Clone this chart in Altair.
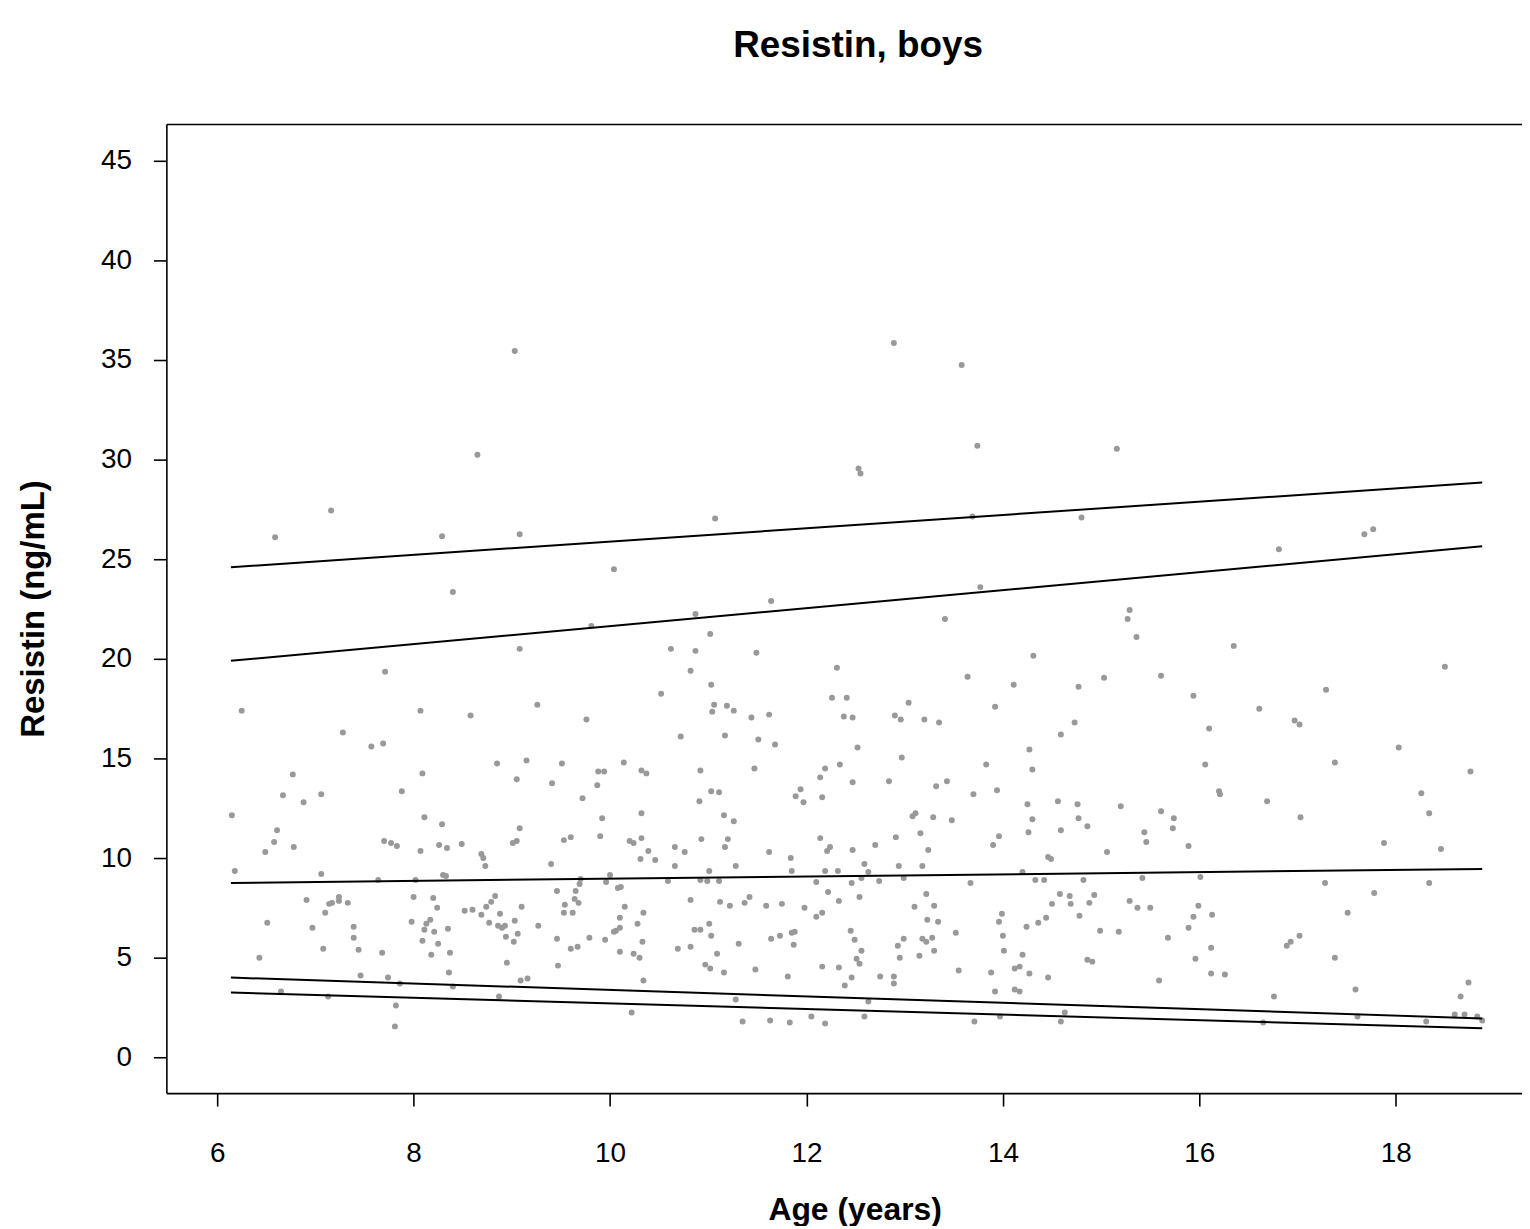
import altair as alt
import pandas as pd

# ---- scatter data (age in years, resistin in ng/mL) ----
ages = [
    9.03, 8.65, 7.16, 6.59, 8.29, 9.08, 8.40, 9.08,
    12.53, 12.55, 11.07, 10.04, 11.64, 10.87, 9.81, 11.02,
    12.89, 13.58, 13.74, 15.16, 13.69, 14.80, 13.77, 13.41, 15.29, 15.27, 15.36,
    17.68, 17.77, 16.81, 16.35,
    7.71, 6.25, 8.07, 8.58, 7.28, 7.57, 7.69, 9.26, 8.85, 9.15, 6.77, 8.09, 9.05,
    6.67, 6.88, 7.06, 7.88, 6.15, 8.11, 8.29, 9.08, 6.61, 6.58, 6.78, 7.70, 7.77,
    7.83, 8.26, 8.34, 8.49, 9.01, 9.05,
    10.62, 10.87, 11.49, 10.82, 12.31, 11.03, 10.52, 12.26, 12.41, 11.06, 11.04,
    11.19, 11.26, 11.44, 11.62, 12.38, 12.47, 9.76, 10.72, 11.17, 11.51, 11.68,
    12.52, 9.51, 10.14, 9.88, 9.94, 10.32, 10.37, 10.92, 11.47, 12.19, 12.34,
    9.41, 9.87, 12.14, 12.47, 9.72, 11.03, 11.11, 10.91, 11.94, 11.89, 11.97,
    12.16, 9.92, 10.32, 11.16, 11.26, 9.53, 9.60, 9.90, 10.20, 10.24, 10.32,
    10.66, 10.93, 11.20, 11.17, 12.14, 12.24,
    10.39, 10.76, 11.62, 11.84, 12.21, 12.47, 10.31, 10.46,
    14.31, 13.64, 14.11, 14.77, 15.03, 15.61, 15.94, 13.04, 12.90, 12.96, 13.20,
    13.35, 13.92, 14.73, 14.59, 12.97, 14.27, 14.30, 13.83, 12.84, 13.32, 13.43,
    13.70, 13.94, 14.25, 14.56, 14.76, 15.20, 15.61, 15.74, 15.73, 13.08, 13.11,
    13.29, 13.48, 14.30, 14.77, 14.86, 14.26, 14.59, 15.44, 15.46, 15.89, 12.70,
    12.91, 13.16, 13.24, 13.96, 13.90, 14.46, 14.49, 15.06,
    18.50, 17.29, 16.61, 16.97, 17.02, 16.10, 18.03, 16.06, 17.38, 18.76, 16.20,
    16.21, 16.69, 18.26, 18.34, 17.03, 17.88, 18.46,
    6.49, 8.07, 8.69, 8.71, 8.73, 6.18, 7.06, 7.64, 8.02, 8.30, 8.33, 6.91, 7.14,
    7.17, 7.24, 7.24, 7.33, 7.10, 6.51, 6.97, 7.39, 7.39, 7.08, 7.44, 7.68, 6.43,
    8.00, 8.20, 8.24, 7.98, 8.17, 8.13, 8.11, 8.21, 8.35, 8.09, 8.25, 8.18, 8.37,
    8.36, 8.52, 8.60, 8.69, 8.74, 8.79, 8.83, 8.77, 8.88, 8.86, 8.90, 8.93, 9.03,
    9.06, 8.94, 9.02, 9.10, 9.27, 8.95, 7.46, 7.74, 7.86, 8.40, 9.09, 9.16, 6.65,
    7.13, 8.87, 7.82, 7.81,
    9.40, 10.66, 11.28, 11.01, 11.85, 12.19, 12.32, 12.59, 9.70, 9.69, 10.00,
    9.96, 10.59, 10.92, 10.99, 11.11, 12.10, 12.46, 12.56, 9.46, 9.65, 9.64, 9.68,
    10.08, 10.11, 9.54, 9.53, 9.62, 10.15, 10.34, 10.10, 10.28, 10.10, 10.06,
    10.04, 9.46, 9.79, 9.95, 9.60, 9.67, 10.33, 10.10, 10.24, 10.30, 9.47, 10.34,
    10.82, 11.12, 11.22, 11.37, 11.42, 11.59, 11.75, 11.98, 12.10, 12.16, 12.22,
    12.33, 12.54, 10.86, 10.92, 11.01, 11.03, 10.69, 10.82, 11.09, 11.31, 11.64,
    11.73, 11.85, 11.88, 11.87, 12.45, 12.49, 12.56, 12.51, 12.54, 10.97, 11.02,
    11.16, 11.48, 11.81, 12.16, 12.33, 12.46, 12.39, 11.28, 10.22, 11.35, 11.63,
    11.83, 12.05, 12.19, 12.59,
    12.63, 12.94, 13.18, 12.74, 12.99, 13.67, 14.20, 14.33, 14.42, 14.82, 15.42,
    13.22, 13.10, 13.30, 13.23, 13.34, 13.52, 12.99, 12.93, 13.18, 13.22, 13.28,
    13.30, 12.95, 13.15, 12.75, 12.89, 12.89, 13.55, 12.63, 13.71, 13.97, 14.59,
    14.63, 13.99, 13.96, 14.00, 14.01, 14.20, 14.12, 14.17, 14.27, 13.88, 13.92,
    14.12, 14.17, 14.46, 14.24, 14.36, 14.44, 14.50, 14.58, 14.68, 14.69, 14.78,
    14.88, 14.93, 14.99, 15.18, 15.29, 15.37, 15.50, 14.86, 14.91, 15.59, 15.68,
    15.89, 15.94, 15.96,
    16.01, 17.28, 18.34, 17.78, 17.51, 15.99, 16.13, 16.12, 16.12, 16.26, 17.02,
    16.89, 16.93, 17.38, 17.59, 16.76, 18.74, 18.66, 18.60, 18.70, 18.83, 18.88,
    17.61, 16.65, 18.31,
]

resistin = [
    35.45, 30.25, 27.45, 26.1, 26.15, 26.25, 23.35, 20.5,
    29.55, 29.3, 27.05, 24.5, 22.9, 22.25, 21.65, 21.25,
    35.85, 34.75, 30.7, 30.55, 27.15, 27.1, 23.6, 22.0, 22.45, 22.0, 21.1,
    26.25, 26.5, 25.5, 20.65,
    19.35, 17.4, 17.4, 17.15, 16.3, 15.6, 15.75, 17.7, 14.75, 14.9, 14.2, 14.25,
    13.95, 13.15, 12.8, 13.2, 13.35, 12.15, 12.05, 11.7, 11.5, 11.4, 10.8, 10.55,
    10.85, 10.75, 10.6, 10.65, 10.5, 10.7, 10.75, 10.85,
    20.5, 20.4, 20.3, 19.4, 19.55, 18.7, 18.25, 18.05, 18.05, 17.7, 17.35, 17.65,
    17.4, 17.05, 17.2, 17.1, 17.05, 16.95, 16.1, 16.15, 15.95, 15.7, 15.55,
    14.75, 14.8, 14.35, 14.35, 14.4, 14.25, 14.4, 14.5, 14.5, 14.7, 13.75, 13.65,
    14.05, 13.8, 13.0, 13.35, 13.3, 12.85, 13.45, 13.1, 12.8, 13.05, 12.0, 12.25,
    12.15, 11.85, 10.9, 11.05, 11.1, 10.85, 10.75, 11.0, 10.55, 10.95, 10.95,
    10.55, 11.0, 10.55,
    10.35, 10.3, 10.3, 10.0, 10.35, 10.4, 9.95, 9.9,
    20.15, 19.1, 18.7, 18.6, 19.05, 19.15, 18.15, 17.8, 17.15, 16.95, 16.95, 16.8,
    17.6, 16.8, 16.2, 15.05, 15.45, 14.45, 14.7, 13.85, 13.6, 13.85, 13.2, 13.4,
    12.7, 12.85, 12.7, 12.6, 12.35, 12.0, 11.5, 12.1, 12.25, 12.05, 11.9, 11.95,
    12.0, 11.6, 11.3, 11.4, 11.3, 10.8, 10.6, 10.65, 11.05, 11.25, 10.4, 11.1,
    10.65, 10.05, 9.95, 10.3,
    19.6, 18.45, 17.5, 16.9, 16.7, 16.5, 15.55, 14.7, 14.8, 14.35, 13.35, 13.2,
    12.85, 13.25, 12.25, 12.05, 10.75, 10.45,
    10.3, 10.35, 10.2, 10.0, 9.6, 9.35, 9.2, 8.9, 8.9, 9.15, 9.1, 7.9, 7.7, 7.75,
    8.05, 7.85, 7.75, 7.25, 6.75, 6.5, 6.55, 6.0, 5.45, 5.4, 5.25, 5.0, 8.05, 8.0,
    7.5, 6.8, 6.9, 6.7, 6.4, 6.3, 6.45, 5.85, 5.7, 5.15, 5.25, 4.25, 7.35, 7.4,
    7.15, 7.55, 7.8, 8.1, 6.75, 7.2, 6.6, 6.5, 6.6, 6.85, 6.2, 6.05, 5.8, 7.55,
    6.6, 4.75, 4.1, 4.0, 3.7, 3.55, 3.85, 3.95, 3.3, 3.05, 3.05, 2.6, 1.55,
    9.7, 9.6, 9.6, 9.35, 9.35, 9.35, 9.35, 9.7, 8.95, 8.7, 9.15, 8.8, 8.85, 8.9,
    8.85, 8.85, 8.8, 8.75, 9.0, 8.35, 8.35, 7.95, 7.75, 8.5, 8.55, 7.65, 7.25,
    7.25, 7.55, 7.25, 7.0, 6.7, 6.5, 6.35, 6.3, 5.95, 6.0, 5.9, 5.45, 5.55, 5.8,
    5.3, 5.2, 5.0, 4.6, 3.85, 7.9, 7.8, 7.6, 7.75, 8.05, 7.6, 7.7, 7.5, 7.05,
    7.25, 8.3, 7.85, 8.05, 6.4, 6.4, 6.7, 6.1, 5.45, 5.55, 5.2, 5.7, 5.95, 6.1,
    6.25, 6.3, 5.65, 6.35, 5.9, 5.35, 4.95, 4.7, 4.65, 4.45, 4.25, 4.4, 4.05,
    4.55, 4.5, 4.0, 3.6, 2.9, 2.25, 1.8, 1.85, 1.75, 2.05, 1.7, 2.05,
    9.3, 9.6, 9.6, 8.85, 9.0, 8.75, 9.3, 8.9, 8.9, 8.9, 9.0, 8.2, 7.55, 7.6, 6.9,
    6.8, 6.25, 5.95, 5.6, 5.95, 5.8, 6.0, 5.35, 5.0, 5.1, 4.05, 4.05, 3.7, 4.35,
    2.8, 1.8, 2.05, 1.8, 2.25, 7.2, 6.8, 6.1, 5.35, 5.15, 4.45, 4.55, 4.2, 4.25,
    3.3, 3.4, 3.3, 4.0, 6.55, 6.75, 7.0, 7.7, 8.2, 8.1, 7.7, 7.1, 7.75, 8.15,
    6.35, 6.3, 7.85, 7.5, 7.5, 4.9, 4.8, 3.85, 6.0, 6.5, 7.05, 4.95,
    9.05, 8.75, 8.75, 8.25, 7.25, 7.6, 7.15, 5.5, 4.2, 4.15, 6.1, 5.6, 5.8, 5.0,
    3.4, 3.05, 3.75, 3.05, 2.15, 2.15, 2.05, 1.85, 2.05, 1.75, 1.8,
]

# ---- reference (centile) lines: value at first and last age ----
centiles = ["97.5th", "90th", "50th", "10th", "2.5th"]
line_age_start = 6.14
line_age_end = 18.88
line_start_vals = [24.6, 19.9, 8.75, 4.0, 3.25]
line_end_vals = [28.85, 25.65, 9.45, 1.95, 1.45]

x_ticks = [6, 8, 10, 12, 14, 16, 18]
y_ticks = [0, 5, 10, 15, 20, 25, 30, 35, 40, 45]
x_domain = [5.483, 19.285]
y_domain = [-1.8, 46.85]

points_df = pd.DataFrame({"age": ages, "resistin": resistin})
lines_df = pd.DataFrame({
    "centile": centiles * 2,
    "age": [line_age_start] * len(centiles) + [line_age_end] * len(centiles),
    "resistin": line_start_vals + line_end_vals,
})

FONT = "Liberation Sans"

x_scale = alt.Scale(domain=x_domain, nice=False, zero=False)
y_scale = alt.Scale(domain=y_domain, nice=False, zero=False)

x_axis = alt.Axis(values=x_ticks, title="Age (years)", grid=False, tickSize=13,
                  labelPadding=34, titlePadding=27, format="d", titleFontSize=32,
                  titleX=691)
y_axis = alt.Axis(values=y_ticks, title="Resistin (ng/mL)", grid=False, tickSize=13,
                  labelPadding=22, titlePadding=50, format="d", titleFontSize=33)

points = alt.Chart(points_df).mark_circle(size=36, color="#999999", opacity=1).encode(
    x=alt.X("age:Q", scale=x_scale, axis=x_axis),
    y=alt.Y("resistin:Q", scale=y_scale, axis=y_axis),
)

lines = alt.Chart(lines_df).mark_line(color="black", strokeWidth=2).encode(
    x=alt.X("age:Q", scale=x_scale,
            axis=alt.Axis(orient="top", labels=False, ticks=False, title=None,
                          grid=False, domain=True)),
    y=alt.Y("resistin:Q", scale=y_scale),
    detail="centile:N",
)

chart = alt.layer(points, lines).resolve_axis(x="independent").properties(
    width=1361,
    height=973,
    padding={"left": 159, "top": 114, "right": 0, "bottom": 131},
    autosize=alt.AutoSizeParams(type="none"),
    title=alt.TitleParams("Resistin, boys", fontSize=37, fontWeight="bold",
                          font=FONT, color="black", frame="group", dx=14, offset=59),
).configure_view(stroke=None).configure_axis(
    labelFont=FONT, labelFontSize=28, labelColor="black",
    titleFont=FONT, titleFontWeight="bold", titleColor="black",
    domainColor="black", domainWidth=1.6, tickColor="black", tickWidth=1.6,
)

chart.save("out.html", embed_options={"renderer": "svg", "actions": False})
